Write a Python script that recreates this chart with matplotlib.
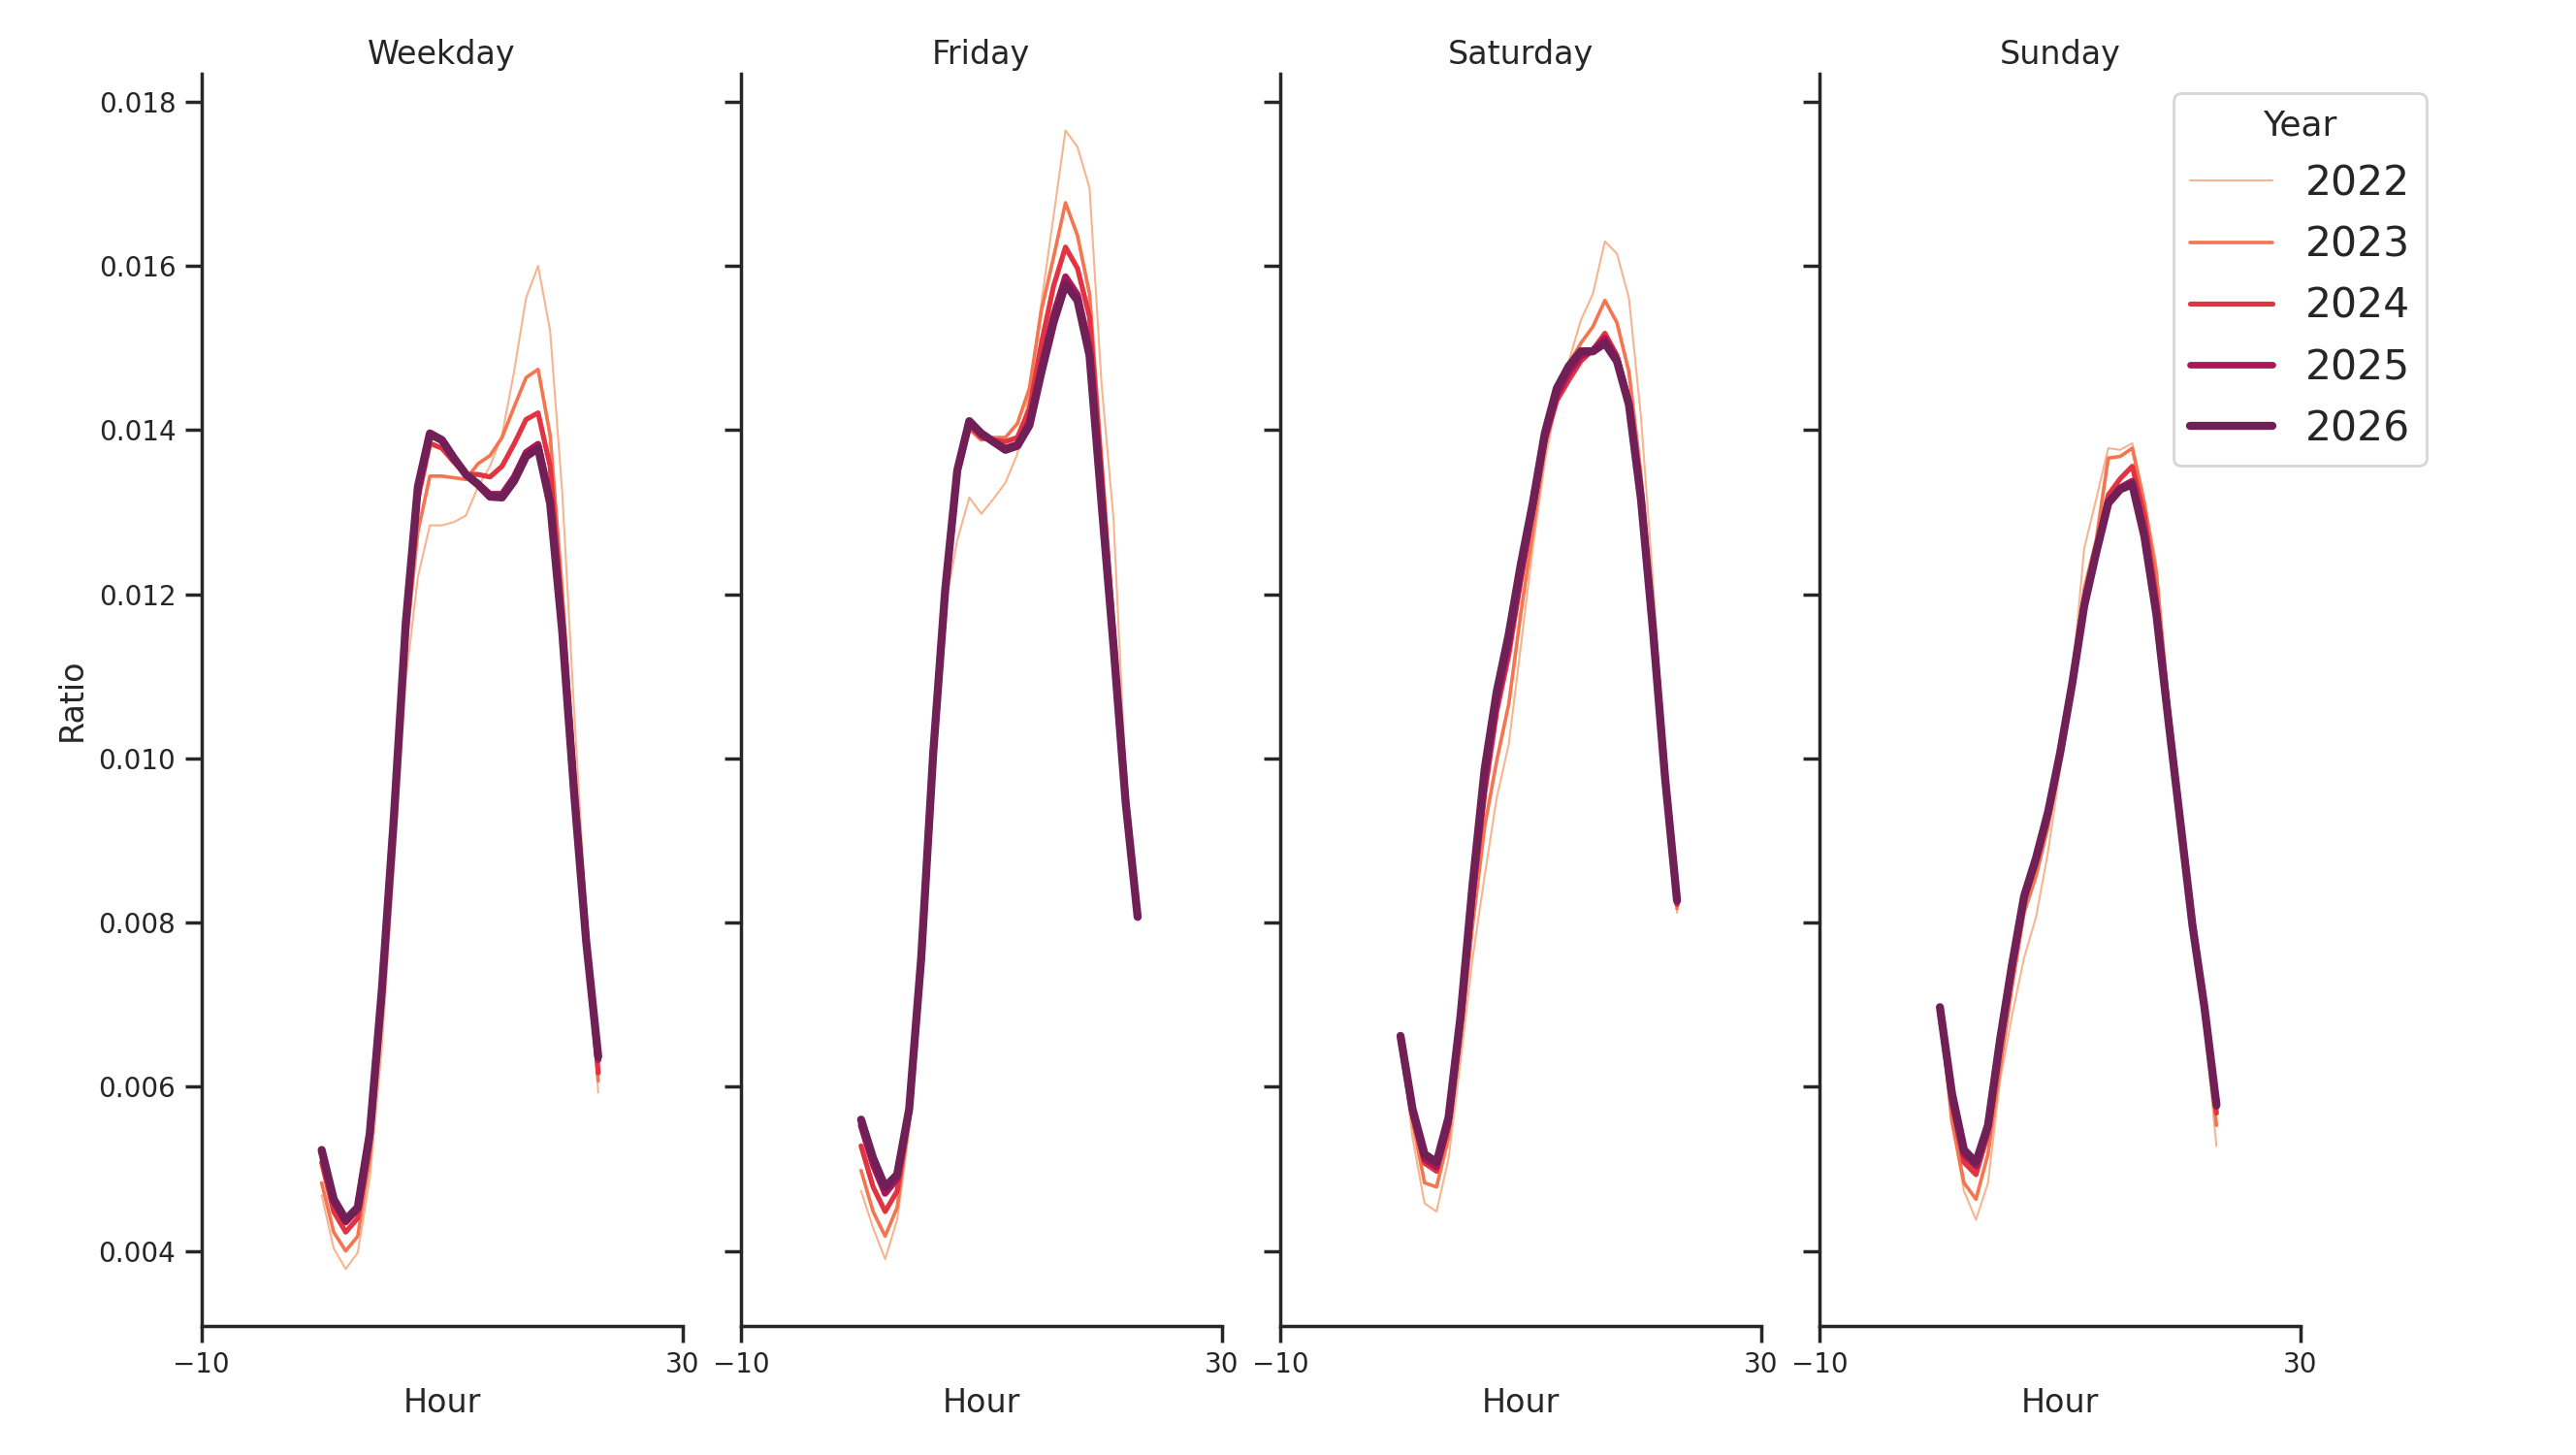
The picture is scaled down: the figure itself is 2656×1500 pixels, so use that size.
"""Hourly ratio profiles by day type, one line per year (facet grid style)."""

import matplotlib
matplotlib.use("Agg")
import matplotlib.pyplot as plt
import seaborn as sns

# Data
HOURS = list(range(24))
YEARS = [2022, 2023, 2024, 2025, 2026]
DAY_TYPES = ["Weekday", "Friday", "Saturday", "Sunday"]

weekday = {
    2022: [0.00468, 0.00403, 0.00378, 0.00398, 0.00488, 0.00647, 0.00867, 0.01096, 0.01221, 0.01284,
           0.01284, 0.01288, 0.01296, 0.01331, 0.01356, 0.01394, 0.01471, 0.01561, 0.01600, 0.01521,
           0.01326, 0.01057, 0.00807, 0.00593],
    2023: [0.00483, 0.00423, 0.00400, 0.00418, 0.00513, 0.00682, 0.00902, 0.01136, 0.01276, 0.01344,
           0.01344, 0.01342, 0.01340, 0.01359, 0.01369, 0.01391, 0.01428, 0.01464, 0.01474, 0.01394,
           0.01206, 0.00987, 0.00797, 0.00607],
    2024: [0.00508, 0.00448, 0.00423, 0.00440, 0.00528, 0.00702, 0.00917, 0.01156, 0.01316, 0.01384,
           0.01378, 0.01361, 0.01346, 0.01346, 0.01343, 0.01356, 0.01383, 0.01413, 0.01421, 0.01356,
           0.01176, 0.00977, 0.00787, 0.00617],
    2025: [0.00520, 0.00460, 0.00435, 0.00451, 0.00540, 0.00715, 0.00925, 0.01164, 0.01329, 0.01394,
           0.01387, 0.01365, 0.01346, 0.01335, 0.01322, 0.01322, 0.01343, 0.01373, 0.01383, 0.01316,
           0.01159, 0.00960, 0.00779, 0.00633],
    2026: [0.00523, 0.00463, 0.00438, 0.00453, 0.00543, 0.00717, 0.00927, 0.01166, 0.01331, 0.01396,
           0.01388, 0.01366, 0.01346, 0.01334, 0.01319, 0.01318, 0.01338, 0.01368, 0.01378, 0.01311,
           0.01156, 0.00957, 0.00777, 0.00637],
}

friday = {
    2022: [0.00473, 0.00428, 0.00390, 0.00438, 0.00548, 0.00727, 0.00977, 0.01186, 0.01266, 0.01318,
           0.01298, 0.01316, 0.01336, 0.01371, 0.01446, 0.01556, 0.01660, 0.01765, 0.01745, 0.01695,
           0.01456, 0.01291, 0.00977, 0.00807],
    2023: [0.00498, 0.00448, 0.00418, 0.00453, 0.00558, 0.00742, 0.00997, 0.01196, 0.01346, 0.01401,
           0.01388, 0.01391, 0.01391, 0.01408, 0.01451, 0.01546, 0.01610, 0.01677, 0.01637, 0.01566,
           0.01366, 0.01166, 0.00967, 0.00807],
    2024: [0.00528, 0.00478, 0.00448, 0.00473, 0.00568, 0.00752, 0.01002, 0.01201, 0.01349, 0.01406,
           0.01391, 0.01388, 0.01386, 0.01391, 0.01426, 0.01506, 0.01575, 0.01623, 0.01597, 0.01538,
           0.01346, 0.01146, 0.00957, 0.00807],
    2025: [0.00553, 0.00505, 0.00470, 0.00488, 0.00571, 0.00756, 0.01005, 0.01205, 0.01350, 0.01410,
           0.01394, 0.01386, 0.01378, 0.01383, 0.01410, 0.01478, 0.01540, 0.01587, 0.01565, 0.01500,
           0.01318, 0.01138, 0.00950, 0.00807],
    2026: [0.00560, 0.00513, 0.00478, 0.00493, 0.00573, 0.00757, 0.01007, 0.01206, 0.01351, 0.01411,
           0.01396, 0.01386, 0.01376, 0.01381, 0.01406, 0.01471, 0.01531, 0.01578, 0.01558, 0.01491,
           0.01311, 0.01136, 0.00947, 0.00807],
}

saturday = {
    2022: [0.00657, 0.00538, 0.00458, 0.00448, 0.00513, 0.00632, 0.00757, 0.00857, 0.00952, 0.01017,
           0.01136, 0.01256, 0.01361, 0.01436, 0.01484, 0.01534, 0.01566, 0.01630, 0.01615, 0.01561,
           0.01416, 0.01216, 0.00997, 0.00812],
    2023: [0.00659, 0.00558, 0.00483, 0.00478, 0.00538, 0.00657, 0.00797, 0.00917, 0.00997, 0.01066,
           0.01176, 0.01276, 0.01376, 0.01446, 0.01481, 0.01506, 0.01526, 0.01558, 0.01531, 0.01471,
           0.01346, 0.01176, 0.00987, 0.00817],
    2024: [0.00660, 0.00567, 0.00507, 0.00497, 0.00552, 0.00677, 0.00827, 0.00957, 0.01057, 0.01126,
           0.01216, 0.01301, 0.01386, 0.01436, 0.01461, 0.01484, 0.01498, 0.01518, 0.01491, 0.01436,
           0.01321, 0.01161, 0.00982, 0.00822],
    2025: [0.00661, 0.00569, 0.00512, 0.00502, 0.00557, 0.00682, 0.00837, 0.00972, 0.01069, 0.01139,
           0.01226, 0.01306, 0.01391, 0.01443, 0.01470, 0.01490, 0.01497, 0.01512, 0.01487, 0.01433,
           0.01318, 0.01159, 0.00979, 0.00825],
    2026: [0.00662, 0.00573, 0.00518, 0.00508, 0.00563, 0.00687, 0.00847, 0.00987, 0.01081, 0.01151,
           0.01236, 0.01311, 0.01396, 0.01451, 0.01478, 0.01496, 0.01496, 0.01506, 0.01484, 0.01431,
           0.01316, 0.01156, 0.00977, 0.00827],
}

sunday = {
    2022: [0.00692, 0.00558, 0.00473, 0.00438, 0.00483, 0.00607, 0.00687, 0.00757, 0.00807, 0.00887,
           0.00987, 0.01096, 0.01256, 0.01316, 0.01378, 0.01376, 0.01384, 0.01316, 0.01236, 0.01067,
           0.00937, 0.00807, 0.00677, 0.00528],
    2023: [0.00695, 0.00558, 0.00483, 0.00463, 0.00518, 0.00622, 0.00722, 0.00812, 0.00857, 0.00917,
           0.00997, 0.01096, 0.01206, 0.01266, 0.01366, 0.01368, 0.01378, 0.01311, 0.01226, 0.01067,
           0.00932, 0.00807, 0.00687, 0.00553],
    2024: [0.00696, 0.00578, 0.00508, 0.00493, 0.00543, 0.00647, 0.00742, 0.00827, 0.00872, 0.00932,
           0.01005, 0.01091, 0.01191, 0.01256, 0.01321, 0.01341, 0.01356, 0.01296, 0.01196, 0.01057,
           0.00927, 0.00802, 0.00692, 0.00568],
    2025: [0.00697, 0.00588, 0.00518, 0.00503, 0.00550, 0.00654, 0.00747, 0.00830, 0.00877, 0.00934,
           0.01006, 0.01091, 0.01188, 0.01252, 0.01313, 0.01330, 0.01338, 0.01276, 0.01180, 0.01049,
           0.00923, 0.00798, 0.00696, 0.00576],
    2026: [0.00697, 0.00592, 0.00523, 0.00508, 0.00553, 0.00657, 0.00749, 0.00832, 0.00879, 0.00935,
           0.01007, 0.01091, 0.01186, 0.01251, 0.01311, 0.01328, 0.01334, 0.01271, 0.01176, 0.01047,
           0.00922, 0.00797, 0.00697, 0.00578],
}

panels = [weekday, friday, saturday, sunday]

# Style
sns.set_style("ticks")
plt.rcParams["font.family"] = ["DejaVu Sans"]
plt.rcParams["axes.linewidth"] = 1.25
plt.rcParams["xtick.major.width"] = 1.25
plt.rcParams["ytick.major.width"] = 1.25
plt.rcParams["xtick.major.size"] = 6
plt.rcParams["ytick.major.size"] = 6

colors = sns.color_palette("rocket_r", 6)[:5]
widths = [0.75, 1.3125, 1.875, 2.4375, 3.0]

fig = plt.figure(figsize=(13.28, 7.5), dpi=200)
left0, step, width = 0.0782, 0.2094, 0.1867
bottom, height = 0.0887, 0.8607

axes = []
for i, (title, data) in enumerate(zip(DAY_TYPES, panels)):
    ax = fig.add_axes([left0 + i * step, bottom, width, height],
                      sharey=axes[0] if axes else None)
    axes.append(ax)
    for year, c, lw in zip(YEARS, colors, widths):
        ax.plot(HOURS, data[year], color=c, lw=lw, label=str(year))
    ax.set_xlim(-10, 30)
    ax.set_xticks([-10, 30])
    ax.set_title(title, fontsize=12, pad=3.5)
    ax.set_xlabel("Hour", fontsize=12, labelpad=3)
    ax.tick_params(labelsize=10)
    sns.despine(ax=ax)
    if i > 0:
        ax.tick_params(labelleft=False)

axes[0].set_ylabel("Ratio", fontsize=12)
axes[0].set_yticks([0.004, 0.006, 0.008, 0.010, 0.012, 0.014, 0.016, 0.018])

handles, labels = axes[-1].get_legend_handles_labels()
leg = fig.legend(handles, labels, title="Year", loc="upper right",
                 bbox_to_anchor=(0.942, 0.936), borderaxespad=0,
                 fontsize=15.3, title_fontsize=13, frameon=True)

fig.savefig("out.png", dpi=200)
plt.close(fig)
